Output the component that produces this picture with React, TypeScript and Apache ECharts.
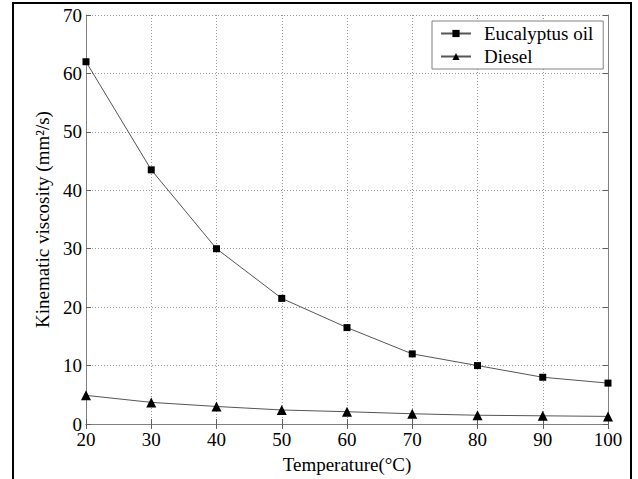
import React, { useEffect, useRef } from "react";
import * as echarts from "echarts";

const temperatures = [20, 30, 40, 50, 60, 70, 80, 90, 100];
const eucalyptusOil = [62, 43.5, 30, 21.5, 16.5, 12, 10, 8, 7];
const diesel = [4.9, 3.7, 3.0, 2.4, 2.1, 1.75, 1.5, 1.4, 1.3];
const seriesNames = ["Eucalyptus oil", "Diesel"];
const xTitle = "Temperature(°C)";
const yTitle = "Kinematic viscosity (mm²/s)";

const FONT = "Liberation Serif";

export default function App() {
  const ref = useRef<HTMLDivElement>(null);
  useEffect(() => {
    document.body.style.margin = "0";
    if (!ref.current) return;
    const chart = echarts.init(ref.current, undefined, { renderer: "svg" });
    const axisCommon = {
      type: "value" as const,
      axisLine: { show: true, lineStyle: { color: "#808080", width: 1 } },
      axisTick: { show: true, inside: true, length: 5, lineStyle: { color: "#606060" } },
    };
    chart.setOption({
      animation: false,
      backgroundColor: "#ffffff",
      textStyle: { fontFamily: FONT },
      grid: { left: 86, right: 30, top: 15, bottom: 52, containLabel: false },
      legend: {
        left: 432,
        top: 21,
        orient: "vertical",
        backgroundColor: "#ffffff",
        borderColor: "#808080",
        borderWidth: 1,
        borderRadius: 0,
        padding: [3, 10, 3, 8],
        itemGap: 4,
        itemWidth: 30,
        itemHeight: 9,
        textStyle: { fontFamily: FONT, fontSize: 19, color: "#000", padding: [0, 0, 0, 8] },
        data: seriesNames,
      },
      xAxis: [
        {
          ...axisCommon,
          min: 20,
          max: 100,
          interval: 10,
          name: xTitle,
          nameLocation: "middle",
          nameGap: 31,
          nameTextStyle: { fontFamily: FONT, fontSize: 19, color: "#000" },
          axisLabel: { fontFamily: FONT, fontSize: 19, color: "#000", margin: 6 },
          splitLine: { show: true, lineStyle: { color: "#999", type: [1, 2], width: 1 } },
        },
        {
          ...axisCommon,
          position: "top",
          min: 20,
          max: 100,
          interval: 10,
          axisLabel: { show: false },
          splitLine: { show: false },
        },
      ],
      yAxis: [
        {
          ...axisCommon,
          min: 0,
          max: 70,
          interval: 10,
          name: yTitle,
          nameLocation: "middle",
          nameGap: 31,
          nameTextStyle: { fontFamily: FONT, fontSize: 19, color: "#000" },
          axisLabel: { fontFamily: FONT, fontSize: 19, color: "#000", margin: 4 },
          splitLine: { show: true, lineStyle: { color: "#999", type: [1, 2], width: 1 } },
        },
        {
          ...axisCommon,
          position: "right",
          min: 0,
          max: 70,
          interval: 10,
          axisLabel: { show: false },
          splitLine: { show: false },
        },
      ],
      series: [
        {
          name: seriesNames[0],
          type: "line",
          data: temperatures.map((t, i) => [t, eucalyptusOil[i]]),
          symbol: "rect",
          symbolSize: 7,
          itemStyle: { color: "#000" },
          lineStyle: { color: "#555", width: 1 },
        },
        {
          name: seriesNames[1],
          type: "line",
          data: temperatures.map((t, i) => [t, diesel[i]]),
          symbol: "triangle",
          symbolSize: 10,
          itemStyle: { color: "#000" },
          lineStyle: { color: "#555", width: 1 },
        },
      ],
      graphic: [
        {
          type: "rect",
          shape: { x: 13, y: 3, width: 618, height: 520 },
          style: { fill: "none", stroke: "#000", lineWidth: 2 },
          silent: true,
        },
      ],
    });
    return () => chart.dispose();
  }, []);
  return <div ref={ref} style={{ width: 638, height: 479 }} />;
}
